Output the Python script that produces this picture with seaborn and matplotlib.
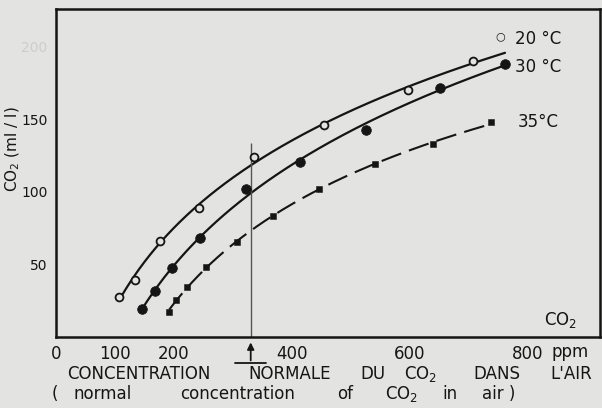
import numpy as np
import pandas as pd
import matplotlib.pyplot as plt
import matplotlib.transforms as mtransforms
import seaborn as sns

# data (ppm, CO2 value)
ppm_20 = [107, 134, 176, 242, 336, 454, 597, 707]
co2_20 = [27.4, 39.3, 66.2, 89.2, 123.7, 146.2, 170.3, 189.9]

ppm_30 = [145, 168, 197, 244, 322, 414, 525, 651, 761]
co2_30 = [19.1, 31.9, 47.4, 68.1, 101.7, 120.9, 142.8, 171.5, 188.3]

ppm_35 = [192, 203, 222, 255, 306, 367, 446, 541, 639, 737]
co2_35 = [17.4, 25.5, 34.7, 48.1, 65.5, 83.7, 101.9, 119.1, 133.1, 147.8]

normal_ppm = 330
x_ticks = [0, 100, 200, 300, 400, 500, 600, 700, 800]
x_labels = ["0", "100", "200", "", "400", "", "600", "", "800"]
y_ticks = [50, 100, 150, 200]
y_labels = ["50", "100", "150", "200"]

ink = "#151515"
paper = "#e3e3e1"

sns.set_style("white")
plt.rcParams['font.family'] = ['DejaVu Sans']

fig = plt.figure(figsize=(6.02, 4.08), dpi=100, facecolor=paper)
ax = fig.add_axes([56 / 602, 1 - 337 / 408, 544 / 602, 328 / 408])
ax.set_facecolor(paper)


def fitted(xs, ys, x_end=None):
    # smooth curve through the points, fitted against log(ppm)
    c = np.polyfit(np.log(xs), ys, 2)
    x_end = max(xs) if x_end is None else x_end
    xx = np.linspace(min(xs), x_end, 200)
    return pd.DataFrame({"ppm": xx, "co2": np.polyval(c, np.log(xx))})


f20 = fitted(ppm_20, co2_20, x_end=max(ppm_30))
f30 = fitted(ppm_30, co2_30)
f35 = fitted(ppm_35, co2_35)

sns.lineplot(data=f20, x="ppm", y="co2", color=ink, lw=1.6, ax=ax)
sns.lineplot(data=f30, x="ppm", y="co2", color=ink, lw=1.6, ax=ax)
sns.lineplot(data=f35, x="ppm", y="co2", color=ink, lw=1.5, ax=ax,
             dashes=False, linestyle=(0, (10, 4)))

sns.scatterplot(x=ppm_20, y=co2_20, marker="o", s=32, facecolor=paper,
                edgecolor=ink, linewidth=1.3, ax=ax, zorder=5)
sns.scatterplot(x=ppm_30, y=co2_30, marker="o", s=48, color=ink,
                edgecolor=ink, ax=ax, zorder=5)
sns.scatterplot(x=ppm_35, y=co2_35, marker="s", s=22, color=ink,
                edgecolor=ink, ax=ax, zorder=5)

# normal air concentration marker
ax.vlines(normal_ppm, 0, 134, color="#555555", lw=1)
tr = mtransforms.blended_transform_factory(ax.transData, ax.transAxes)
ax.annotate("", xy=(normal_ppm, -0.008), xytext=(normal_ppm, -0.08),
            xycoords=tr, textcoords=tr,
            arrowprops=dict(arrowstyle="-|>", color=ink, lw=1.3,
                            mutation_scale=10))
ax.plot([normal_ppm - 26, normal_ppm + 26], [-0.08, -0.08], color=ink,
        lw=1.3, transform=tr, clip_on=False)

# curve labels
ax.text(753, 207, "○", fontsize=8, color=ink, ha="center", va="center")
ax.text(778, 205.5, "20 °C", fontsize=12, color=ink, va="center")
ax.text(778, 186, "30 °C", fontsize=12, color=ink, va="center")
ax.text(783, 148, "35°C", fontsize=12, color=ink, va="center")
ax.text(856, 12, "CO$_2$", fontsize=12, color=ink, ha="center", va="center")

ax.set_xlim(0, 922)
ax.set_ylim(0, 226)
ax.set_xticks(x_ticks)
ax.set_xticklabels(x_labels, fontsize=12, color=ink)
ax.set_yticks(y_ticks)
ax.set_yticklabels(y_labels, fontsize=10, color=ink)
ax.tick_params(axis="x", direction="in", length=6, width=1, pad=6, colors=ink)
ax.tick_params(axis="y", direction="out", length=3, width=1, pad=3, colors=ink)
ax.get_yticklabels()[-1].set_color("#cdcdcb")
ax.set_xlabel("")
ax.set_ylabel("")
for sp in ax.spines.values():
    sp.set_color(ink)
    sp.set_linewidth(1.8)

ax.text(872, -0.046, "ppm", fontsize=12, color=ink, ha="center", va="center",
        transform=tr)

# axis titles placed word by word, like the original lettering
line1 = [("CONCENTRATION", 139), ("NORMALE", 290), ("DU", 373),
         ("CO$_2$", 421), ("DANS", 497), ("L'AIR", 571)]
line2 = [("(", 55), ("normal", 103), ("concentration", 238), ("of", 345),
         ("CO$_2$", 402), ("in", 450), ("air )", 499)]
for word, xp in line1:
    fig.text(xp / 602, 1 - 374 / 408, word, fontsize=12, color=ink,
             ha="center", va="center")
for word, xp in line2:
    fig.text(xp / 602, 1 - 394 / 408, word, fontsize=12, color=ink,
             ha="center", va="center")

fig.text(13 / 602, 1 - 192 / 408, "CO$_2$ (ml / l)", fontsize=11, color=ink,
         rotation=90, ha="center", va="bottom")

fig.savefig("out.png", dpi=100, facecolor=paper)
